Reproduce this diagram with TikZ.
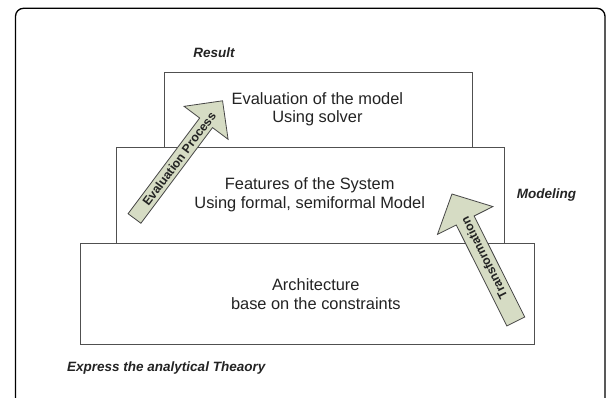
\documentclass[tikz,border=0pt]{standalone}
\usepackage{fontspec}
\setmainfont{Liberation Sans}
\definecolor{arrowfill}{RGB}{214,220,196}
\definecolor{arrowline}{RGB}{70,70,70}
\definecolor{boxline}{RGB}{80,80,80}
\definecolor{txt}{RGB}{35,35,35}
\begin{document}
\begin{tikzpicture}[x=1pt,y=-1pt,
  layerbox/.style={draw=boxline, line width=0.9pt, fill=white, rectangle, inner sep=0pt, outer sep=0pt},
  layertext/.style={text=txt, align=center, inner sep=0pt, font=\fontsize{16.4}{18.3}\selectfont},
  sidelabel/.style={text=txt, inner sep=0pt, font=\fontsize{13.5}{15}\selectfont\bfseries\itshape},
  arrowbody/.style={draw=arrowline, line width=0.8pt, fill=arrowfill, line join=miter},
  arrowlabel/.style={text=txt, inner sep=0pt, font=\fontsize{12.3}{14}\selectfont\bfseries}]
\useasboundingbox (0,0) rectangle (606,398);
\clip (0,0) rectangle (606,398);
% outer frame
\draw[line width=1.3pt, rounded corners=8pt] (15.5,8.3) rectangle (605,430);
% layers
\node[layerbox, minimum width=308pt, minimum height=75pt] (topbox) at (318,109.8) {};
\node[layerbox, minimum width=388pt, minimum height=96.2pt] (midbox) at (310,195.4) {};
\node[layerbox, minimum width=454.5pt, minimum height=101pt] (botbox) at (307.25,294) {};
\node[layertext] (toptext) at (317.4,109.2) {Evaluation of the model\\Using solver};
\node[layertext] (midtext) at (309.7,194.8) {Features of the System\\Using formal, semiformal Model};
\node[layertext] (bottext) at (315.8,294.2) {Architecture\\base on the constraints};
% side labels
\node[sidelabel] (result) at (214,52.7) {Result};
\node[sidelabel] (modeling) at (546.4,195) {Modeling};
\node[sidelabel, anchor=west] (express) at (67,368.3) {Express the analytical Theaory};
% evaluation arrow
\begin{scope}[shift={(134.5,218.5)}, rotate=53.2]
  \draw[arrowbody] (0,-8) -- (119.5,-8) -- (119.5,-27.5) -- (147,0) -- (119.5,27.5) -- (119.5,8) -- (0,8) -- cycle;
  \node[arrowlabel, transform shape] (evalp) at (74.5,0) {Evaluation Process};
\end{scope}
% transformation arrow
\begin{scope}[shift={(515.8,321.5)}, rotate=116.6]
  \draw[arrowbody] (0,-10) -- (113,-10) -- (113,-31) -- (142.6,0) -- (113,31) -- (113,10) -- (0,10) -- cycle;
  \node[arrowlabel, transform shape] (trans) at (71,0) {Transformation};
\end{scope}
\end{tikzpicture}
\end{document}
